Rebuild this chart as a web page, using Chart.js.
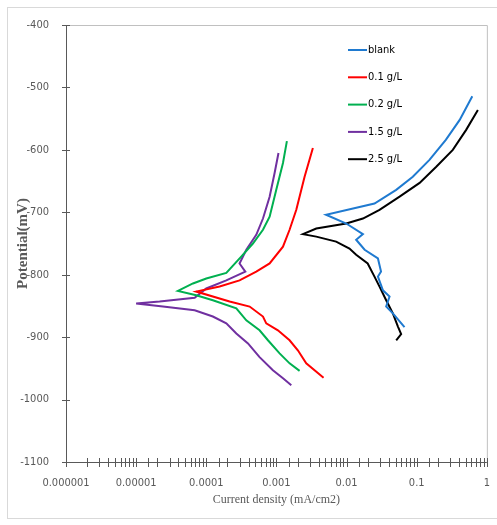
<!DOCTYPE html>
<html>
<head>
<meta charset="utf-8">
<script src="https://cdn.jsdelivr.net/npm/chart.js@4.4.1/dist/chart.umd.min.js"></script>
<style>
  body { margin: 0; background: #fff; }
  #frame { position: absolute; left: 7px; top: 7px; width: 495px; height: 510px; border: 1px solid #d9d9d9; }
  #wrap { position: absolute; left: 0; top: 0; width: 497px; height: 525px; }
</style>
</head>
<body>
<div id="frame"></div>
<div id="wrap"><canvas id="myChart" width="497" height="525"></canvas></div>
<script>
// current density (mA/cm2) and potential (mV)
const blankI = [0.62, 0.41, 0.26, 0.152, 0.088, 0.051, 0.025, 0.0051, 0.0099, 0.0171, 0.0137, 0.0181, 0.028, 0.031, 0.028, 0.033, 0.041, 0.0367, 0.0457, 0.067]
const blankE = [-514, -552, -584, -616, -643, -664, -686, -704, -718, -735, -744, -760, -774, -795, -803, -825, -835, -851, -862, -884]

const c01I = [0.00331, 0.00252, 0.00192, 0.00154, 0.00124, 0.0008, 0.000516, 0.000298, 0.000155, 0.0000719, 0.000215, 0.000415, 0.000643, 0.000716, 0.00105, 0.00154, 0.00202, 0.00266, 0.0047]
const c01E = [-597, -643, -696, -728, -755, -782, -795, -809, -819, -827, -843, -851, -867, -878, -889, -905, -921, -942, -965]

const c02I = [0.00141, 0.00124, 0.000995, 0.0008, 0.000643, 0.000462, 0.000315, 0.000193, 0.0001, 0.0000646, 0.0000394, 0.0000719, 0.000124, 0.000268, 0.000372, 0.000575, 0.000757, 0.00111, 0.00154, 0.00214]
const c02E = [-586, -621, -664, -707, -728, -750, -771, -797, -806, -814, -826, -833, -841, -854, -873, -889, -905, -926, -942, -954]

const c15I = [0.00107, 0.000942, 0.0008, 0.000643, 0.000516, 0.000372, 0.000298, 0.00036, 0.000193, 0.0001, 0.0000683, 0.0000216, 0.00001, 0.0000241, 0.0000683, 0.000124, 0.000193, 0.000268, 0.000393, 0.000575, 0.000891, 0.00124, 0.00163]
const c15E = [-605, -637, -675, -710, -736, -760, -782, -795, -809, -822, -837, -843, -846, -851, -857, -867, -878, -894, -910, -932, -953, -966, -977]

const c25I = [0.745, 0.507, 0.327, 0.19, 0.11, 0.057, 0.0295, 0.0171, 0.0099, 0.0037, 0.00239, 0.0037, 0.0071, 0.011, 0.0137, 0.020, 0.025, 0.0295, 0.0367, 0.0457, 0.054, 0.060, 0.051]
const c25E = [-536, -568, -600, -627, -653, -675, -696, -710, -718, -726, -735, -739, -747, -758, -768, -782, -803, -819, -841, -862, -883, -895, -905]

const seriesNames = ['blank', '0.1 g/L', '0.2 g/L', '1.5 g/L', '2.5 g/L']
const xTickLabels = ['0.000001', '0.00001', '0.0001', '0.001', '0.01', '0.1', '1']

const pts = (xs, ys) => xs.map((x, i) => ({x: x, y: ys[i]}))
const narrow = "'DejaVu Sans Condensed', 'Liberation Sans', Arial"
const tickFont = {family: narrow, size: 11}

const makeSet = (label, xs, ys, color) => ({
    label: label,
    data: pts(xs, ys),
    borderColor: color,
    backgroundColor: color,
    borderWidth: 2,
    pointRadius: 0,
    tension: 0,
    fill: false
})

// frame, crossing tick marks and the legend inside the plot
const extras = {
    id: 'extras',
    afterDraw(chart) {
        const {ctx, chartArea: a, scales} = chart
        ctx.save()
        ctx.lineWidth = 1
        ctx.strokeStyle = '#c0c0c0'
        ctx.beginPath()
        ctx.moveTo(a.left, a.top + 0.5); ctx.lineTo(a.right + 0.5, a.top + 0.5)
        ctx.lineTo(a.right + 0.5, a.bottom)
        ctx.stroke()

        ctx.strokeStyle = '#595959'
        ctx.beginPath()
        ctx.moveTo(a.left + 0.5, a.top); ctx.lineTo(a.left + 0.5, a.bottom + 0.5)
        ctx.lineTo(a.right, a.bottom + 0.5)
        scales.y.ticks.forEach(t => {
            const py = Math.round(scales.y.getPixelForValue(t.value)) + 0.5
            ctx.moveTo(a.left - 4, py); ctx.lineTo(a.left + 4, py)
        })
        scales.x.ticks.forEach(t => {
            const px = Math.round(scales.x.getPixelForValue(t.value)) + 0.5
            ctx.moveTo(px, a.bottom - 4); ctx.lineTo(px, a.bottom + 5)
        })
        ctx.stroke()

        const lx = a.left + 282
        ctx.font = "11px " + narrow
        ctx.textBaseline = 'middle'
        ctx.fillStyle = '#000'
        chart.data.datasets.forEach((ds, i) => {
            const ly = a.top + 25 + i * 27.3
            ctx.strokeStyle = ds.borderColor
            ctx.lineWidth = 2
            ctx.beginPath()
            ctx.moveTo(lx, ly); ctx.lineTo(lx + 19, ly)
            ctx.stroke()
            ctx.fillText(ds.label, lx + 20, ly)
        })
        ctx.restore()
    }
}

let myChart = document.getElementById('myChart').getContext('2d')
let tafelChart = new Chart(myChart, {
    type: 'line',
    data: {
        datasets: [
            makeSet(seriesNames[0], blankI, blankE, '#1f7ad0'),
            makeSet(seriesNames[1], c01I, c01E, '#ff0000'),
            makeSet(seriesNames[2], c02I, c02E, '#00b050'),
            makeSet(seriesNames[3], c15I, c15E, '#7030a0'),
            makeSet(seriesNames[4], c25I, c25E, '#000000')
        ]
    },
    options: {
        responsive: false,
        animation: false,
        layout: {padding: {top: 25, right: 6, left: 0, bottom: 13}},
        plugins: {
            legend: {display: false},
            tooltip: {enabled: false}
        },
        scales: {
            x: {
                type: 'logarithmic',
                min: 0.000001,
                max: 1,
                afterFit: s => { s.height = 50 },
                grid: {display: false},
                border: {display: false},
                ticks: {
                    autoSkip: false,
                    maxRotation: 0,
                    padding: 7,
                    color: '#595959',
                    font: tickFont,
                    callback: v => {
                        const e = Math.log10(v)
                        if (Math.abs(e - Math.round(e)) > 1e-6) return ''
                        return xTickLabels[Math.round(e) + 6]
                    }
                },
                title: {
                    display: true,
                    text: 'Current density (mA/cm2)',
                    color: '#595959',
                    font: {family: "'Liberation Serif', 'Times New Roman', serif", size: 12},
                    padding: {top: 0, bottom: 5}
                }
            },
            y: {
                type: 'linear',
                min: -1100,
                max: -400,
                afterFit: s => { s.width = 66 },
                grid: {display: false},
                border: {display: false},
                ticks: {
                    stepSize: 100,
                    padding: 9,
                    color: '#595959',
                    font: tickFont,
                    callback: v => String(v)
                },
                title: {
                    display: true,
                    text: 'Potential(mV)',
                    color: '#595959',
                    font: {family: "'Liberation Serif', 'Times New Roman', serif", size: 15, weight: 'bold'},
                    padding: {top: 14, bottom: 0}
                }
            }
        }
    },
    plugins: [extras]
})
</script>
</body>
</html>
